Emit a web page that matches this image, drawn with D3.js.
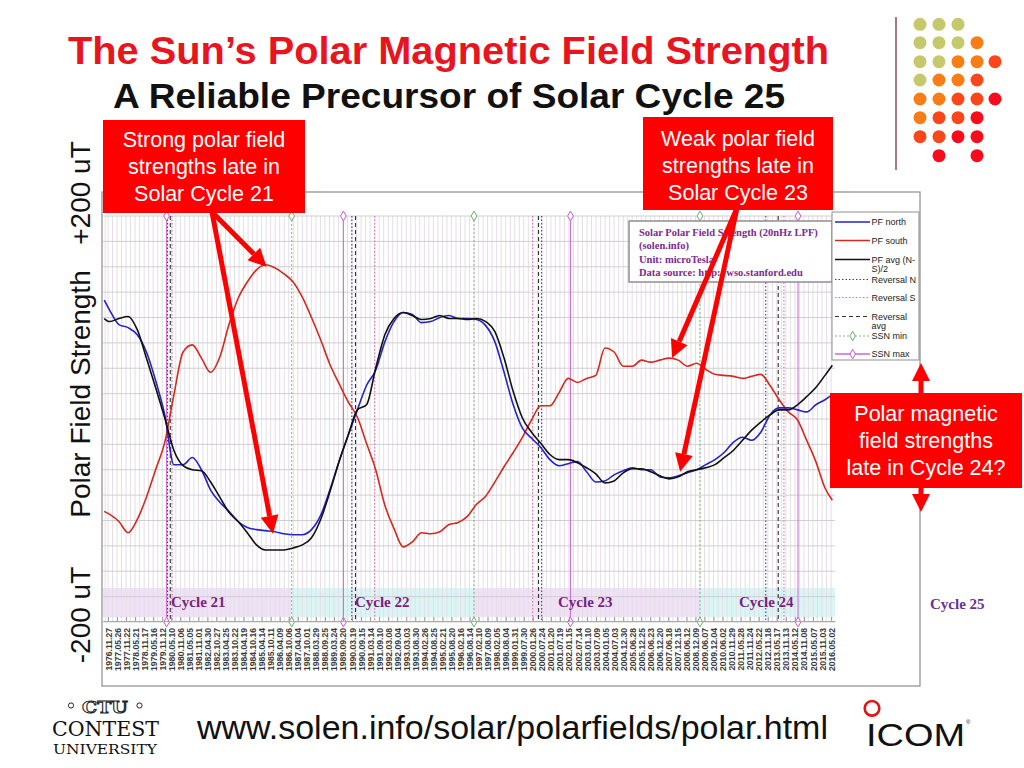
<!DOCTYPE html>
<html><head><meta charset="utf-8">
<script src="https://cdn.jsdelivr.net/npm/d3@7"></script>
<style>body{margin:0;background:#fff}svg{display:block}</style>
</head><body><svg id="c" width="1024" height="768"></svg>
<script>
// ---------------- DATA ----------------
const years = [1976.7,1977.0,1977.5,1978.0,1978.5,1979.0,1979.5,1980.0,1980.5,1981.0,1981.5,1982.0,1982.5,1983.0,1983.5,1984.0,1984.5,1985.0,1985.5,1986.0,1986.5,1987.0,1987.5,1988.0,1988.5,1989.0,1989.5,1990.0,1990.5,1991.0,1991.5,1992.0,1992.5,1993.0,1993.5,1994.0,1994.5,1995.0,1995.5,1996.0,1996.5,1997.0,1997.5,1998.0,1998.5,1999.0,1999.5,2000.0,2000.5,2001.0,2001.5,2002.0,2002.5,2003.0,2003.5,2004.0,2004.5,2005.0,2005.5,2006.0,2006.5,2007.0,2007.5,2008.0,2008.5,2009.0,2009.5,2010.0,2010.5,2011.0,2011.5,2012.0,2012.5,2013.0,2013.5,2014.0,2014.5,2015.0,2015.5,2016.0,2016.4];
const pfNorth = [117,107,93,90,83,66,38,4,-45,-45,-38,-50,-70,-82,-91,-101,-107,-109,-110,-111,-113,-114,-114,-109,-95,-70,-42,-16,9,33,48,76,96,105,103,95,96,100,102,99,99,98,92,76,46,14,-9,-19,-28,-40,-46,-44,-42,-52,-62,-61,-55,-51,-48,-50,-50,-57,-58,-56,-53,-50,-45,-40,-33,-23,-18,-21,-13,4,11,11,9,7,14,19,24];
const pfSouth = [-91,-94,-101,-112,-99,-77,-50,-23,24,66,73,60,46,61,93,119,135,147,152,149,143,135,120,100,78,54,35,17,2,-24,-50,-85,-108,-126,-121,-112,-113,-111,-104,-102,-96,-84,-76,-62,-47,-33,-18,-1,13,13,26,40,36,40,43,70,66,52,52,58,56,58,60,58,52,55,49,44,43,42,40,42,44,33,19,7,-1,-21,-42,-68,-80];
const pfAvg = [99,96,99,101,88,60,31,1,-31,-46,-50,-51,-62,-77,-92,-101,-112,-124,-129,-129,-129,-127,-124,-117,-99,-72,-42,-16,9,14,50,83,99,105,102,98,99,102,99,99,98,99,96,86,60,27,1,-13,-24,-35,-40,-40,-43,-48,-54,-63,-61,-53,-49,-49,-52,-56,-59,-57,-52,-50,-48,-45,-38,-31,-21,-11,-3,4,9,9,14,22,31,43,53];

const ssnMin = [1986.92, 1996.86, 2009.18];
const ssnMax = [1980.10, 1989.74, 2002.12, 2014.53];
const reversalN = [1980.15, 1990.20, 2000.55, 2012.77];
const reversalS = [1980.40, 1991.45, 2000.06, 2013.76];
const reversalAvg = [1980.30, 1990.40, 2000.38, 2013.45];

const cycleNames = ["Cycle 21","Cycle 22","Cycle 23","Cycle 24"];
const cycleLabelYears = [1980.34, 1990.37, 2001.44, 2011.31];

const tickLabels = ["1976.11.27","1977.05.26","1977.11.22","1978.05.21","1978.11.17","1979.05.16","1979.11.12","1980.05.10","1980.11.06","1981.05.05","1981.11.01","1982.04.30","1982.10.27","1983.04.25","1983.10.22","1984.04.19","1984.10.16","1985.04.14","1985.10.11","1986.04.09","1986.10.06","1987.04.04","1987.10.01","1988.03.29","1988.09.25","1989.03.24","1989.09.20","1990.03.19","1990.09.15","1991.03.14","1991.09.10","1992.03.08","1992.09.04","1993.03.03","1993.08.30","1994.02.26","1994.08.25","1995.02.21","1995.08.20","1996.02.16","1996.08.14","1997.02.10","1997.08.09","1998.02.05","1998.08.04","1999.01.31","1999.07.30","2000.01.26","2000.07.24","2001.01.20","2001.07.19","2002.01.15","2002.07.14","2003.01.10","2003.07.09","2004.01.05","2004.07.03","2004.12.30","2005.06.28","2005.12.25","2006.06.23","2006.12.20","2007.06.18","2007.12.15","2008.06.12","2008.12.09","2009.06.07","2009.12.04","2010.06.02","2010.11.29","2011.05.28","2011.11.24","2012.05.22","2012.11.18","2013.05.17","2013.11.13","2014.05.12","2014.11.08","2015.05.07","2015.11.03","2016.05.02"];

const titleText = "The Sun\u2019s Polar Magnetic Field Strength";
const subtitleText = "A Reliable Precursor of Solar Cycle 25";
const box1Lines = ["Strong polar field","strengths late in","Solar Cycle 21"];
const box2Lines = ["Weak polar field","strengths late in","Solar Cycle 23"];
const box3Lines = ["Polar magnetic","field strengths","late in Cycle 24?"];
const infoLines = ["Solar Polar Field Strength (20nHz LPF)","(solen.info)","Unit: microTesla","Data source: http://wso.stanford.edu"];
const urlText = "www.solen.info/solar/polarfields/polar.html";

// ---------------- DRAW ----------------
const svg = d3.select("#c");
svg.append("rect").attr("width",1024).attr("height",768).attr("fill","#fff");
const x = d3.scaleLinear().domain([1976.632, 2016.545]).range([103, 835]);
const y = d3.scaleLinear().domain([-200, 200]).range([622, 216]);
const fy = s => { const [a,m,d] = s.split(".").map(Number); return a + (Date.UTC(a,m-1,d)-Date.UTC(a,0,1))/(365.25*864e5); };
const tickYears = tickLabels.map(fy);

// chart frame
svg.append("rect").attr("x",102).attr("y",192).attr("width",818).attr("height",494)
  .attr("fill","#fff").attr("stroke","#8c8c8c").attr("stroke-width",1.2);

const plot = svg.append("g");
// cycle bands
const edges = [x.domain()[0], ...ssnMin, x.domain()[1]];
for (let i=0;i<edges.length-1;i++){
  plot.append("rect").attr("x",x(edges[i])).attr("y",588).attr("width",x(edges[i+1])-x(edges[i])).attr("height",29)
    .attr("fill", i%2 ? "#d9f5f6" : "#f0e2f6");
}
// vertical grid
const mids = tickYears.slice(0,-1).map((t,i)=>(t+tickYears[i+1])/2);
plot.selectAll(".vg").data([x.domain()[0]+0.12, ...tickYears, ...mids]).join("line")
  .attr("x1",d=>x(d)).attr("x2",d=>x(d)).attr("y1",y(200)).attr("y2",y(-200))
  .attr("stroke","#e6dee6").attr("stroke-width",1);
// horizontal grid
plot.selectAll(".hg").data(d3.range(-200,201,25)).join("line")
  .attr("x1",103).attr("x2",835).attr("y1",d=>y(d)).attr("y2",d=>y(d))
  .attr("stroke","#cfcfcf").attr("stroke-width",1);

// event lines
function vlines(arr, color, dash, w){
  plot.selectAll(null).data(arr).join("line")
    .attr("x1",d=>x(d)).attr("x2",d=>x(d)).attr("y1",y(200)).attr("y2",y(-200))
    .attr("stroke",color).attr("stroke-width",w).attr("stroke-dasharray",dash);
}
vlines(reversalN,"#3c3c90","1.5,2",1.1);
vlines(reversalS,"#d873a6","1.5,2",1.1);
vlines(reversalAvg,"#333","4,3",1.1);
vlines(ssnMin,"#7cbf7c","2,2",1);
vlines(ssnMax,"#cc66d6",null,1);
function diamonds(arr,color){
  arr.forEach(d=>[y(200),y(-200)].forEach(yy=>{
    plot.append("path").attr("d",d3.symbol(d3.symbolDiamond,28)()).attr("transform",`translate(${x(d)},${yy})`)
      .attr("fill","#fff").attr("stroke",color).attr("stroke-width",1);
  }));
}
diamonds(ssnMin,"#6bb06b");
diamonds(ssnMax,"#c35ccd");

// cycle labels
plot.selectAll(".cl").data(cycleNames).join("text")
  .attr("x",(d,i)=>x(cycleLabelYears[i])).attr("y",607)
  .attr("font-family","'Liberation Serif','Times New Roman',serif").attr("font-weight","bold").attr("font-size",15)
  .attr("fill","#7a1f80").text(d=>d);

// curves
svg.append("clipPath").attr("id","pc").append("rect").attr("x",103).attr("y",216).attr("width",732).attr("height",406);
const line = d3.line().x((d,i)=>x(years[i])).y(d=>y(d)).curve(d3.curveMonotoneX);
const cg = svg.append("g").attr("clip-path","url(#pc)");
cg.append("path").attr("d",line(pfSouth)).attr("fill","none").attr("stroke","#d42a1e").attr("stroke-width",1.6);
cg.append("path").attr("d",line(pfNorth)).attr("fill","none").attr("stroke","#2323c8").attr("stroke-width",1.6);
cg.append("path").attr("d",line(pfAvg)).attr("fill","none").attr("stroke","#111").attr("stroke-width",1.6);

// x axis
const ax = svg.append("g").attr("transform","translate(0,621)")
  .call(d3.axisBottom(x).tickValues(tickYears).tickFormat((d,i)=>tickLabels[i]).tickSize(-4).tickSizeOuter(0));
ax.select(".domain").attr("stroke","#aaa");
ax.selectAll(".tick line").attr("stroke","#999");
ax.selectAll(".tick text").attr("transform","rotate(-90)").attr("x",-7).attr("y",0).attr("dy","0.35em")
  .style("text-anchor","end").attr("font-family","'Liberation Sans',Arial,sans-serif").attr("font-size",8.6)
  .attr("font-weight","bold").attr("fill","#3a3a3a");

// info box
svg.append("rect").attr("x",629).attr("y",221).attr("width",203).attr("height",61)
  .attr("fill","#fff").attr("stroke","#8f8f8f").attr("stroke-width",1.5);
svg.selectAll(".il").data(infoLines).join("text").attr("x",639).attr("y",(d,i)=>236+i*13.3)
  .attr("font-family","'Liberation Serif','Times New Roman',serif").attr("font-weight","bold").attr("font-size",10.5)
  .attr("fill","#7d2a8e").text(d=>d);

// legend
const lg = svg.append("g");
lg.append("rect").attr("x",832).attr("y",212).attr("width",87).attr("height",148).attr("fill","#fff").attr("stroke","#8f8f8f");
const legendItems = [
  {t:["PF north"], c:"#2323c8", dash:null, ly:222, mk:null},
  {t:["PF south"], c:"#d42a1e", dash:null, ly:240.5, mk:null},
  {t:["PF avg (N-","S)/2"], c:"#111", dash:null, ly:259.5, mk:null},
  {t:["Reversal N"], c:"#3c3c90", dash:"1.5,2", ly:279.5, mk:null},
  {t:["Reversal S"], c:"#d873a6", dash:"1.5,2", ly:297.5, mk:null},
  {t:["Reversal","avg"], c:"#333", dash:"4,3", ly:316.5, mk:null},
  {t:["SSN min"], c:"#7cbf7c", dash:"2,2", ly:336, mk:"#6bb06b"},
  {t:["SSN max"], c:"#cc66d6", dash:null, ly:354, mk:"#c35ccd"}
];
legendItems.forEach(it=>{
  lg.append("line").attr("x1",835).attr("x2",870).attr("y1",it.ly).attr("y2",it.ly)
    .attr("stroke",it.c).attr("stroke-width",it.dash?1:1.5).attr("stroke-dasharray",it.dash);
  if (it.mk) lg.append("path").attr("d",d3.symbol(d3.symbolDiamond,26)()).attr("transform",`translate(852.7,${it.ly})`)
    .attr("fill","#fff").attr("stroke",it.mk);
  it.t.forEach((s,j)=>lg.append("text").attr("x",871.5).attr("y",it.ly+3+j*9.5)
    .attr("font-family","'Liberation Sans',Arial,sans-serif").attr("font-size",9).attr("fill","#222").text(s));
});

// Cycle 25 label
svg.append("text").attr("x",930).attr("y",609).attr("font-family","'Liberation Serif','Times New Roman',serif")
  .attr("font-weight","bold").attr("font-size",15).attr("fill","#6b2f9a").text("Cycle 25");

// ---------------- SLIDE DECORATIONS ----------------
const sans = "'Liberation Sans',Arial,Helvetica,sans-serif";
svg.append("text").attr("x",68).attr("y",64).attr("font-family",sans).attr("font-weight","bold").attr("font-size",38)
  .attr("fill","#e8141e").attr("textLength",761).attr("lengthAdjust","spacingAndGlyphs").text(titleText);
svg.append("text").attr("x",113).attr("y",108).attr("font-family",sans).attr("font-weight","bold").attr("font-size",35.5)
  .attr("fill","#111").attr("textLength",672).attr("lengthAdjust","spacingAndGlyphs").text(subtitleText);

// y axis title
[["+200 uT",193],["Polar Field Strength",394],["-200 uT",615]].forEach(([t,cy])=>{
  svg.append("text").attr("transform",`translate(90,${cy}) rotate(-90)`).attr("text-anchor","middle")
    .attr("font-family",sans).attr("font-size",28).attr("fill","#111").text(t);
});

// arrows
function arrow(x1,y1,x2,y2,w=5,hl=18,hw=9){
  const a = Math.atan2(y2-y1,x2-x1), ca=Math.cos(a), sa=Math.sin(a);
  const bx=x2-hl*ca, by=y2-hl*sa;
  svg.append("line").attr("x1",x1).attr("y1",y1).attr("x2",bx).attr("y2",by).attr("stroke","#ff0000").attr("stroke-width",w);
  svg.append("path").attr("d",`M${x2},${y2}L${bx-hw*sa},${by+hw*ca}L${bx+hw*sa},${by-hw*ca}Z`).attr("fill","#ff0000");
}
arrow(212,212, x(1985.55), y(150));
arrow(212,212, x(1985.9), y(-113));
arrow(737,208, x(2007.66), y(60));
arrow(737,208, x(2008.1), y(-52));
arrow(921,400, 921,363);
arrow(921,480, 921,512);

// red boxes
function redBox(x0,y0,w,h,lines,ys){
  svg.append("rect").attr("x",x0).attr("y",y0).attr("width",w).attr("height",h).attr("fill","#ff0000");
  lines.forEach((t,i)=>svg.append("text").attr("x",x0+w/2).attr("y",ys+i*27).attr("text-anchor","middle")
    .attr("font-family",sans).attr("font-size",21.5).attr("fill","#fff").text(t));
}
redBox(103,120,202,93,box1Lines,147);
redBox(643,117,190,93,box2Lines,146);
redBox(830,393,192,95,box3Lines,421);

// URL
svg.append("text").attr("x",197).attr("y",739).attr("font-family",sans).attr("font-size",33)
  .attr("fill","#111").attr("textLength",631).attr("lengthAdjust","spacingAndGlyphs").text(urlText);

// dots
const dotRows = ["ooo","oooO","ooOOr","oOOr","OOrrR","OrrR","rrRR"," R R"];
const dotColor = {o:"#c6c96b", O:"#f97d16", r:"#f9471a", R:"#f80c1c"};
const colX=[920,939,958,977,995], rowY=[24.3,42.7,61.7,80,99,117.7,136.7,155.7];
dotRows.forEach((row,ri)=>row.split("").forEach((ch,ci)=>{
  if (dotColor[ch]) svg.append("circle").attr("cx",colX[ci]).attr("cy",rowY[ri]).attr("r",6.5).attr("fill",dotColor[ch]);
}));
svg.append("line").attr("x1",896).attr("x2",896).attr("y1",17).attr("y2",170).attr("stroke","#a47a8a").attr("stroke-width",2);

// CTU logo
const serif = "'DejaVu Serif','Liberation Serif',serif";
svg.append("circle").attr("cx",71).attr("cy",705.5).attr("r",2.6).attr("fill","none").attr("stroke","#222").attr("stroke-width",1);
svg.append("circle").attr("cx",139.5).attr("cy",705.5).attr("r",2.6).attr("fill","none").attr("stroke","#222").attr("stroke-width",1);
svg.append("text").attr("x",82).attr("y",713).attr("font-family",serif).attr("font-weight","bold").attr("font-size",17)
  .attr("fill","#fff").attr("stroke","#222").attr("stroke-width",1).attr("textLength",46).attr("lengthAdjust","spacingAndGlyphs").text("CTU");
svg.append("text").attr("x",52).attr("y",736).attr("font-family",serif).attr("font-size",20).attr("fill","#111")
  .attr("textLength",107).attr("lengthAdjust","spacingAndGlyphs").text("CONTEST");
svg.append("text").attr("x",53).attr("y",754).attr("font-family",serif).attr("font-size",13).attr("fill","#111")
  .attr("textLength",104).attr("lengthAdjust","spacingAndGlyphs").text("UNIVERSITY");

// ICOM logo
svg.append("circle").attr("cx",872).attr("cy",708.3).attr("r",7.3).attr("fill","none").attr("stroke","#e01515").attr("stroke-width",2.6);
svg.append("text").attr("x",866).attr("y",746).attr("font-family",sans).attr("font-size",31).attr("fill","#111")
  .attr("textLength",99).attr("lengthAdjust","spacingAndGlyphs").text("ICOM");
svg.append("text").attr("x",966).attr("y",724).attr("font-family",sans).attr("font-size",6).attr("fill","#111").text("\u00AE");
</script>
</body></html>
